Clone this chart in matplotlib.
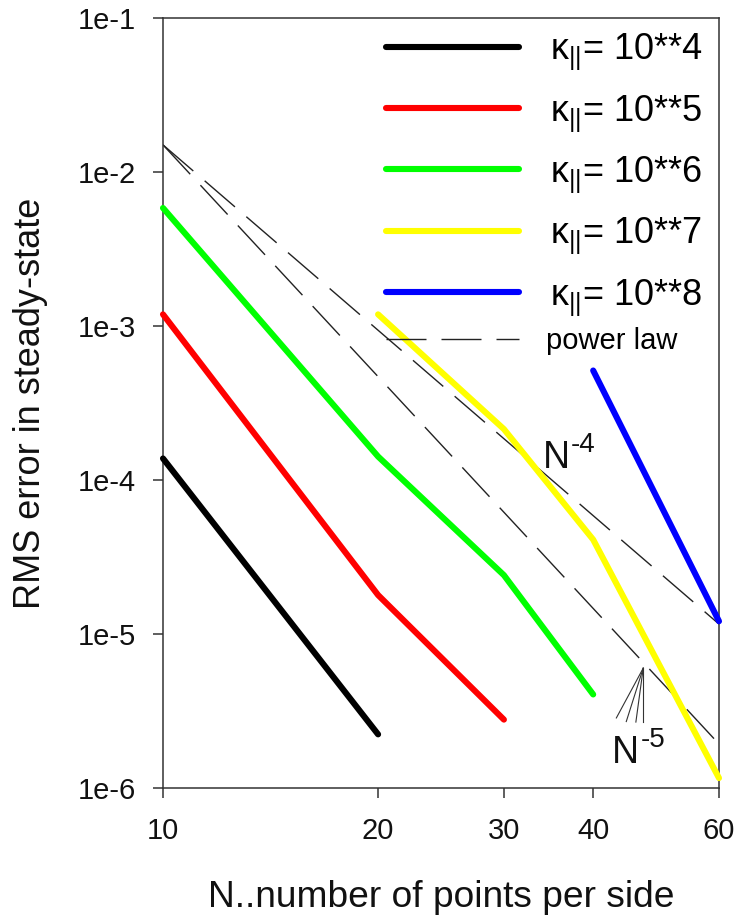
import matplotlib
matplotlib.use("Agg")
import matplotlib.pyplot as plt
from matplotlib.ticker import FixedLocator, FixedFormatter, NullLocator

plt.rcParams['font.family'] = ['Liberation Sans', 'DejaVu Sans']
plt.rcParams['mathtext.fontset'] = 'custom'
plt.rcParams['mathtext.rm'] = 'Liberation Sans'
plt.rcParams['mathtext.it'] = 'Liberation Sans'
plt.rcParams['mathtext.bf'] = 'Liberation Sans:bold'

# ---- data ----
N_k4 = [10, 20]
err_k4 = [1.38e-4, 2.23e-6]
N_k5 = [10, 20, 30]
err_k5 = [1.19e-3, 1.79e-5, 2.78e-6]
N_k6 = [10, 20, 30, 40]
err_k6 = [5.84e-3, 1.42e-4, 2.41e-5, 4.05e-6]
N_k7 = [20, 30, 40, 60]
err_k7 = [1.19e-3, 2.14e-4, 4.1e-5, 1.16e-6]
N_k8 = [40, 60]
err_k8 = [5.14e-4, 1.21e-5]
N_pow = [10, 60]
pow4 = [1.5e-2, 1.16e-5]
pow5 = [1.5e-2, 1.93e-6]

series_labels = ['κ$_{||}$= 10**4', 'κ$_{||}$= 10**5', 'κ$_{||}$= 10**6',
                 'κ$_{||}$= 10**7', 'κ$_{||}$= 10**8']
series_colors = ['#000000', '#ff0000', '#00ff00', '#ffff00', '#0000ff']

xticks = [10, 20, 30, 40, 60]
xticklabels = ['10', '20', '30', '40', '60']
yticks = [1e-6, 1e-5, 1e-4, 1e-3, 1e-2, 1e-1]
yticklabels = ['1e-6', '1e-5', '1e-4', '1e-3', '1e-2', '1e-1']

# annotation positions (data coords)
lab4_pos = (34.0, 1.2e-4)
lab5_pos = (42.5, 1.45e-6)

# N^-5 pointer fan (apex and feet)
fan_apex = (47.0, 6.0e-6)
fan_feet_N = [43.1, 44.5, 45.9, 47.0]
fan_feet_err = [2.85e-6, 2.70e-6, 2.68e-6, 2.68e-6]

fig = plt.figure(figsize=(7.39, 9.17), dpi=100)
ax = fig.add_axes([163/739, 1-788/917, 556/739, 770/917])
ax.set_xscale('log')
ax.set_yscale('log')
ax.set_xlim(10, 60)
ax.set_ylim(1e-6, 1e-1)

lw = 4.4
all_N = [N_k4, N_k5, N_k6, N_k7, N_k8]
all_err = [err_k4, err_k5, err_k6, err_k7, err_k8]
handles = []
for Nv, ev, c, lab in zip(all_N, all_err, series_colors, series_labels):
    h, = ax.plot(Nv, ev, color=c, lw=lw, solid_capstyle='round',
                 solid_joinstyle='round', label=lab, clip_on=False, zorder=3)
    handles.append(h)

dash = (28.8, 10.8)
h4, = ax.plot(N_pow, pow4, color='#222222', lw=1.0, dashes=dash, label='power law', zorder=2)
h5, = ax.plot(N_pow, pow5, color='#222222', lw=1.0, dashes=dash, zorder=2)

for fx, fy in zip(fan_feet_N, fan_feet_err):
    ax.plot([fx, fan_apex[0]], [fy, fan_apex[1]], color='#333333', lw=0.8, zorder=2)

for pos, sup in [(lab4_pos, '-4'), (lab5_pos, '-5')]:
    ax.text(pos[0], pos[1], 'N', fontsize=27, ha='left', va='baseline', color='#111111')
    ax.annotate(sup, xy=pos, xycoords='data', xytext=(20.5, 11.5), textcoords='offset points',
                fontsize=20, ha='left', va='baseline', color='#111111')

ax.xaxis.set_major_locator(FixedLocator(xticks))
ax.xaxis.set_major_formatter(FixedFormatter(xticklabels))
ax.xaxis.set_minor_locator(NullLocator())
ax.yaxis.set_major_locator(FixedLocator(yticks))
ax.yaxis.set_major_formatter(FixedFormatter(yticklabels))
ax.yaxis.set_minor_locator(NullLocator())

ax.tick_params(axis='both', which='major', direction='out', length=7.2, width=1.1,
               color='#333333', labelsize=21, labelcolor='#111111')
ax.tick_params(axis='x', pad=14)
ax.tick_params(axis='y', pad=12)
for s in ax.spines.values():
    s.set_linewidth(1.1)
    s.set_color('#333333')

ax.set_xlabel('N..number of points per side', fontsize=26.7, labelpad=25, color='#111111')
ax.set_ylabel('RMS error in steady-state', fontsize=26, labelpad=22, color='#111111')

leg_x = 0.4011
leg1 = ax.legend(handles=handles, loc='upper left', bbox_to_anchor=(leg_x, 0.982),
                 frameon=False, fontsize=26, handlelength=3.68, handletextpad=0.86,
                 labelspacing=0.58, borderaxespad=0, borderpad=0)
ax.add_artist(leg1)
leg2 = ax.legend(handles=[h4], loc='center left', bbox_to_anchor=(leg_x, (788 - 341) / 770),
                 frameon=False, fontsize=21, handlelength=4.55, handletextpad=0.95,
                 borderaxespad=0, borderpad=0)

fig.savefig('out.png', dpi=100)
